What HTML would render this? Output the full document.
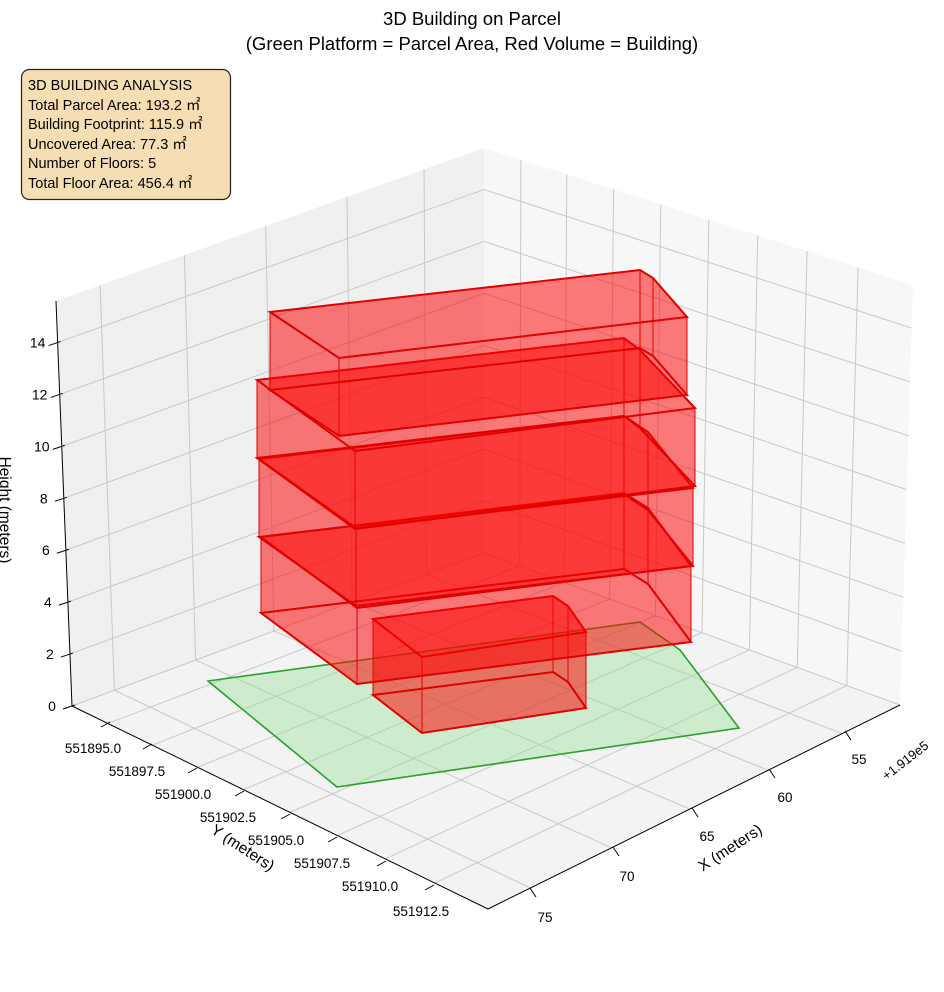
<!DOCTYPE html>
<html><head><meta charset="utf-8"><style>
html,body{margin:0;padding:0;background:#fff;}
svg{display:block;font-family:"Liberation Sans",sans-serif;}
</style></head><body>
<svg id="s" width="944" height="992" viewBox="0 0 944 992" xmlns="http://www.w3.org/2000/svg">
<rect width="944" height="992" fill="#fff"/>
<g id="panes"></g>
<g id="grid" stroke="#c8c8c8" stroke-width="1" fill="none"></g>
<polygon points="208,681 640,622 680,650 739,728 337,787" fill="#90e090" fill-opacity="0.38" stroke="#2ca02c" stroke-width="1.6"/>
<g id="bld"></g>
<g id="axes" stroke="#000" stroke-width="1" fill="none"></g>
<g id="lbl" font-size="14" fill="#000"></g>
<text x="472" y="25" font-size="18.5" text-anchor="middle">3D Building on Parcel</text>
<text x="472" y="50" font-size="18.5" text-anchor="middle">(Green Platform = Parcel Area, Red Volume = Building)</text>
<rect x="21.5" y="69.5" width="209" height="130" rx="8" fill="#f5deb3" stroke="#222" stroke-width="1.2"/>
<g font-size="14.5" fill="#000">
<text x="28" y="90">3D BUILDING ANALYSIS</text>
<text x="28" y="110">Total Parcel Area: 193.2 ㎡</text>
<text x="28" y="129">Building Footprint: 115.9 ㎡</text>
<text x="28" y="149">Uncovered Area: 77.3 ㎡</text>
<text x="28" y="168">Number of Floors: 5</text>
<text x="28" y="188">Total Floor Area: 456.4 ㎡</text>
</g>
</svg>
<script>
var NS="http://www.w3.org/2000/svg";
function el(p,t,a,txt){var e=document.createElementNS(NS,t);for(var k in a)e.setAttribute(k,a[k]);if(txt!==undefined)e.textContent=txt;document.getElementById(p).appendChild(e);return e;}
function bil(c00,c10,c01,c11,u,v){return[(1-u)*(1-v)*c00[0]+u*(1-v)*c10[0]+(1-u)*v*c01[0]+u*v*c11[0],(1-u)*(1-v)*c00[1]+u*(1-v)*c10[1]+(1-u)*v*c01[1]+u*v*c11[1]];}
var LB=[72,706],BB=[484,553],LT=[56,301],BT=[484,148],RB=[900,705],RT=[913,285],FR=[488,909];
function pts(a){return a.map(function(p){return p[0].toFixed(1)+","+p[1].toFixed(1)}).join(" ");}
el("panes","polygon",{points:pts([LB,BB,BT,LT]),fill:"#f0f0f0"});
el("panes","polygon",{points:pts([BB,RB,RT,BT]),fill:"#f7f7f7"});
el("panes","polygon",{points:pts([BB,LB,FR,RB]),fill:"#f3f3f3"});
function ln(g,p,q){el(g,"line",{x1:p[0],y1:p[1],x2:q[0],y2:q[1]});}
var lu=[0.103,0.30,0.49,0.68,0.86];
var ru=[0.086,0.193,0.302,0.412,0.524,0.638,0.753,0.872];
for(var z=0;z<=14;z+=2){var v=z/15.6;
 ln("grid",bil(LB,BB,LT,BT,0,v),bil(LB,BB,LT,BT,1,v));
 ln("grid",bil(BB,RB,BT,RT,0,v),bil(BB,RB,BT,RT,1,v));}
lu.forEach(function(u){ln("grid",bil(LB,BB,LT,BT,u,0),bil(LB,BB,LT,BT,u,1));
 var a=1-u; ln("grid",bil(BB,LB,RB,FR,a,0),bil(BB,LB,RB,FR,a,1));});
ru.forEach(function(u){ln("grid",bil(BB,RB,BT,RT,u,0),bil(BB,RB,BT,RT,u,1));
 ln("grid",bil(BB,LB,RB,FR,0,u),bil(BB,LB,RB,FR,1,u));});
function prism(top,h,sw){
 var bot=top.map(function(p){return[p[0],p[1]+h]});
 var t=top;
 var st={fill:"#ff0000","fill-opacity":"0.3",stroke:"#e00000","stroke-width":"1"};
 el("bld","polygon",Object.assign({},st,{points:pts(bot)}));
 for(var i=0;i<t.length;i++){var j=(i+1)%t.length;
  el("bld","polygon",Object.assign({},st,{points:pts([t[i],t[j],bot[j],bot[i]])}));}
 el("bld","polygon",{points:pts(t),fill:"#ff0000","fill-opacity":"0.3",stroke:"#e00000","stroke-width":sw});
 el("bld","polygon",{points:pts(bot),fill:"none",stroke:"#e00000","stroke-width":sw});
}
prism([[373,619],[553,596],[568,606],[586,632],[422,657]],76,2);
prism([[261,537],[624,493],[648,508],[691,566],[357,608]],76,2);
prism([[259,459],[624,416],[648,432],[693,488],[356,528]],78,2);
prism([[257,380],[624,338],[640,350],[695,408],[355,451]],78,2);
prism([[270,312],[640,270],[653,278],[687,317],[339,358]],78,2);
ln("axes",LT,LB);ln("axes",LB,FR);ln("axes",FR,RB);
for(var z=0;z<=14;z+=2){var p=bil(LB,BB,LT,BT,0,z/15.6);ln("axes",[p[0]-9,p[1]+3],[p[0]+3,p[1]-1]);
 el("lbl","text",{x:p[0]-20,y:p[1]+5,"text-anchor":"middle"},String(z));}
var yt=[[108,723],[150,745],[195,769],[242,792],[288,815],[335,838],[384,862],[432,886]];
var yl=["551895.0","551897.5","551900.0","551902.5","551905.0","551907.5","551910.0","551912.5"];
var ylp=[[93,748],[137,771],[183,794],[228,817],[276,840],[322,863],[370,886],[421,911]];
yt.forEach(function(p,i){ln("axes",[p[0]-7,p[1]+4],[p[0]+2,p[1]-1]);
 el("lbl","text",{x:ylp[i][0],y:ylp[i][1]+5,"text-anchor":"middle","font-size":"13.5"},yl[i]);});
var xt=[[532,891],[615,850],[694,811],[771,772],[847,734]];
var xl=["75","70","65","60","55"],xlp=[[545,917],[627,876],[707,836],[785,797],[859,759]];
xt.forEach(function(p,i){ln("axes",[p[0]-2,p[1]-3],[p[0]+4,p[1]+6]);
 el("lbl","text",{x:xlp[i][0],y:xlp[i][1]+5,"text-anchor":"middle","font-size":"13.5"},xl[i]);});
el("lbl","text",{x:0,y:0,transform:"translate(908,764) rotate(-38)","text-anchor":"middle","font-size":"13"},"+1.919e5");
el("lbl","text",{x:0,y:0,transform:"translate(240,852) rotate(33)","text-anchor":"middle","font-size":"15.5"},"Y (meters)");
el("lbl","text",{x:0,y:0,transform:"translate(733,852) rotate(-33)","text-anchor":"middle","font-size":"15.5"},"X (meters)");
el("lbl","text",{x:0,y:0,transform:"translate(0,510) rotate(90)","text-anchor":"middle","font-size":"15.5"},"Height (meters)");
</script>
</body></html>
